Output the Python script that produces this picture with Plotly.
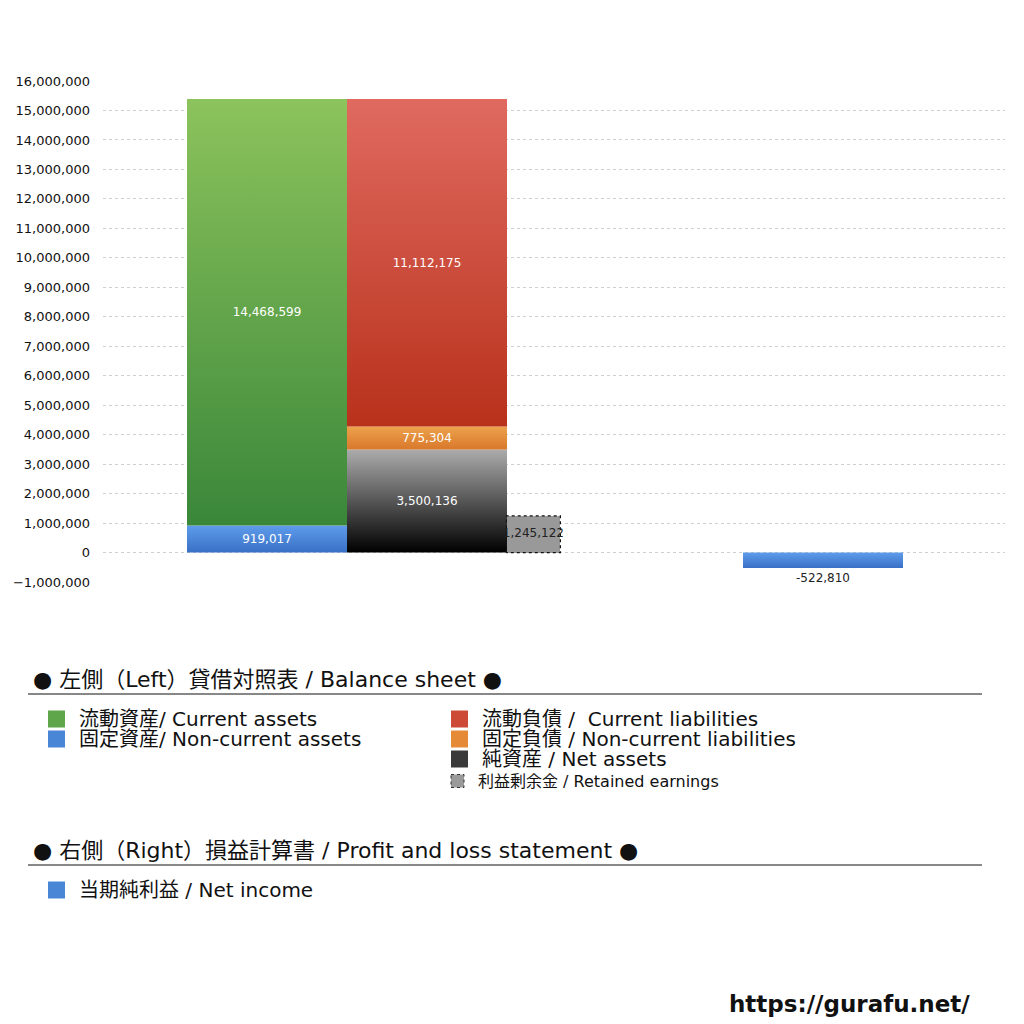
import plotly.graph_objects as go

# balance sheet / P&L values (yen)
current_assets = [14468599]
noncurrent_assets = [919017]
current_liab = [11112175]
noncurrent_liab = [775304]
net_assets = [3500136]
retained = [1245122]
net_income = [-522810]

# x slots in units of one bar width
x_assets = [1.025]
x_liab = [2.025]
x_ret = [2.69]
x_pl = [4.5]

FONT = "DejaVu Sans, Noto Sans CJK JP"
OFF = 8  # page body margin
W, H = 1016, 1016
ML, MR, MT = 103 - OFF, 19, 81 - OFF
MB = H - (582 - OFF)
XR = [0, (W - ML - MR) / 160]
YR = [-1000000, 16000000]

def px(x):
    return (x - OFF - ML) / (W - ML - MR)

def py(y):
    return (H - MB - (y - OFF)) / (H - MT - MB)

def fmt(v):
    return ["{:,}".format(a) for a in v]

fig = go.Figure()

# gradient fills on the base axes, computed from the same values
def grad(x, y, base, bottom, top, width=1.0):
    x0, x1 = x[0] - width / 2, x[0] + width / 2
    b, t = base, base + y[0]
    fig.add_trace(go.Scatter(x=[x0, x1, x1, x0, x0], y=[b, b, t, t, b], mode="lines",
                             line=dict(width=0), fill="toself",
                             fillgradient=dict(type="vertical", colorscale=[[0, bottom], [1, top]]),
                             showlegend=False, hoverinfo="skip"))

grad(x_assets, noncurrent_assets, 0, "#3870c6", "#5f9ceb")
grad(x_assets, current_assets, noncurrent_assets[0], "#3a873a", "#8cc35c")
grad(x_liab, net_assets, 0, "#000000", "#acacac")
grad(x_liab, noncurrent_liab, net_assets[0], "#d8782a", "#eda24c")
grad(x_liab, current_liab, net_assets[0] + noncurrent_liab[0], "#b8311b", "#e06a60")
grad(x_pl, [-net_income[0]], net_income[0], "#3870c6", "#5f9ceb")

# transparent bars on an overlaying axis carry the value labels
def bar(x, y, tcolor="white", pos="inside"):
    fig.add_trace(go.Bar(
        x=x, y=y, width=1.0, marker=dict(color="rgba(0,0,0,0)", line=dict(width=0)),
        text=fmt(y), textposition=pos, insidetextanchor="middle", cliponaxis=False,
        textfont=dict(size=12, color=tcolor, family=FONT),
        constraintext="none", showlegend=False, hoverinfo="skip",
        xaxis="x2", yaxis="y2"))

bar(x_assets, noncurrent_assets)
bar(x_assets, current_assets)
bar(x_liab, net_assets)
bar(x_liab, noncurrent_liab)
bar(x_liab, current_liab)
bar(x_pl, net_income, tcolor="#222", pos="outside")

# retained earnings: grey box with dotted outline, label drawn over it
rw = 0.3375
rx0, rx1 = x_ret[0] - rw / 2, x_ret[0] + rw / 2
fig.add_trace(go.Bar(x=x_ret, y=retained, width=rw, marker=dict(color="#999999", line=dict(width=0)),
                     showlegend=False, hoverinfo="skip"))
fig.add_trace(go.Scatter(x=[rx0, rx0, rx1, rx1, rx0], y=[0, retained[0], retained[0], 0, 0],
                         mode="lines", line=dict(color="#111", width=1.2, dash="dot"),
                         showlegend=False, hoverinfo="skip"))
fig.add_trace(go.Scatter(x=x_ret, y=[retained[0] / 2], mode="text", text=fmt(retained),
                         textfont=dict(size=12, color="#222", family=FONT), cliponaxis=False,
                         showlegend=False, hoverinfo="skip"))

fig.update_layout(
    width=W, height=H, barmode="relative", bargap=0,
    paper_bgcolor="white", plot_bgcolor="white",
    margin=dict(l=ML, r=MR, t=MT, b=MB),
    font=dict(family=FONT, color="#222"),
    xaxis=dict(range=XR, showticklabels=False, showgrid=False, automargin=False,
               zeroline=False, showline=False, fixedrange=True),
    yaxis=dict(range=YR, dtick=1000000, tickformat=",", automargin=False,
               showgrid=True, gridcolor="#cfcfcf", griddash="dot", gridwidth=1,
               zeroline=False, showline=False, ticklabelstandoff=12,
               tickfont=dict(size=13, color="#111", family=FONT)),
    xaxis2=dict(range=XR, overlaying="x", visible=False),
    yaxis2=dict(range=YR, overlaying="y", visible=False),
)

anns = []
shapes = []

def head(text, ypx):
    anns.append(dict(text=text, x=px(31), y=py(ypx), xref="paper", yref="paper",
                     xanchor="left", yanchor="middle", showarrow=False,
                     font=dict(size=22, color="#111", family=FONT)))
    shapes.append(dict(type="line", xref="paper", yref="paper", x0=px(28), x1=px(982),
                       y0=py(ypx + 15), y1=py(ypx + 15), line=dict(color="#111", width=1)))

def item(text, xpx, ypx, color, size=20, box=17, dotted=False):
    shapes.append(dict(type="rect", xref="paper", yref="paper",
                       x0=px(xpx), x1=px(xpx + box), y0=py(ypx - box / 2), y1=py(ypx + box / 2),
                       fillcolor=color,
                       line=dict(color="#333" if dotted else color, width=1 if dotted else 0,
                                 dash="dot")))
    anns.append(dict(text=text, x=px(xpx + box + 12), y=py(ypx), xref="paper", yref="paper",
                     xanchor="left", yanchor="middle", showarrow=False,
                     font=dict(size=size, color="#111", family=FONT)))

head("● 左側（Left）貸借対照表 / Balance sheet ●", 679)
item("流動資産/ Current assets", 48, 719, "#5fa64a")
item("固定資産/ Non-current assets", 48, 739, "#4a86d6")
item("流動負債 /  Current liabilities", 451, 719, "#cc4a36")
item("固定負債 / Non-current liabilities", 451, 739, "#e58a36")
item("純資産 / Net assets", 451, 759, "#3a3a3a")
item("利益剰余金 / Retained earnings", 451, 781, "#9a9a9a", size=16, box=13, dotted=True)

head("● 右側（Right）損益計算書 / Profit and loss statement ●", 850)
item("当期純利益 / Net income", 48, 890, "#4a86d6")

anns.append(dict(text="<b>https://gurafu.net/</b>", x=px(972), y=py(1004), xref="paper", yref="paper",
                 xanchor="right", yanchor="middle", showarrow=False,
                 font=dict(size=23, color="#111", family="DejaVu Sans")))

fig.update_layout(annotations=anns, shapes=shapes)
fig.write_html("out.html")
